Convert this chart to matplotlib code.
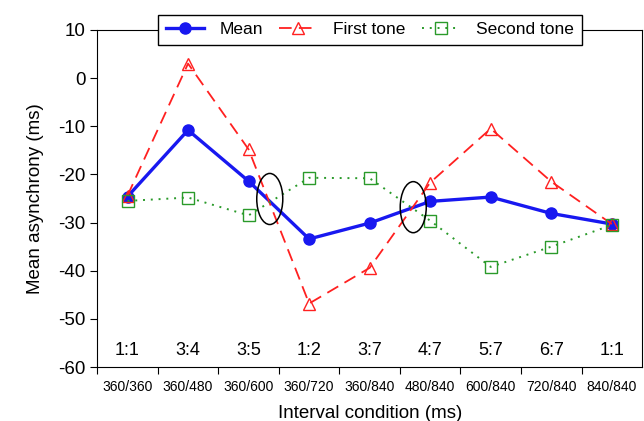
import matplotlib.pyplot as plt
from matplotlib.patches import Ellipse
import numpy as np

plt.rcParams['font.family'] = ['Liberation Sans', 'DejaVu Sans']
plt.rcParams['axes.unicode_minus'] = False

ratios = ['1:1', '3:4', '3:5', '1:2', '3:7', '4:7', '5:7', '6:7', '1:1']
intervals = ['360/360', '360/480', '360/600', '360/720', '360/840',
             '480/840', '600/840', '720/840', '840/840']
mean_vals = [-24.6, -10.8, -21.4, -33.4, -30.1, -25.6, -24.7, -28.1, -30.3]
first_tone = [-24.4, 3.0, -14.8, -46.8, -39.4, -21.7, -10.5, -21.5, -30.3]
second_tone = [-25.5, -24.8, -28.5, -20.7, -20.8, -29.6, -39.2, -35.0, -30.5]

x = np.arange(len(ratios)) + 0.5

fig = plt.figure(figsize=(6.44, 4.21), dpi=100)
ax = fig.add_axes([0.151, 0.128, 0.846, 0.801])

ax.plot(x, mean_vals, color='#1818f0', lw=2.4, marker='o', ms=8, label='Mean', zorder=3)
ax.plot(x, first_tone, color='#ff2020', lw=1.3, ls=(0, (7, 4)), marker='^', ms=8,
        mfc='none', mew=1.0, label='First tone', zorder=4)
ax.plot(x, second_tone, color='#2a9a2a', lw=1.4, ls=(0, (1, 3)), marker='s', ms=8,
        mfc='none', mew=1.0, label='Second tone', zorder=5)

for cx, cy in [(2.85, -25.1), (5.22, -26.8)]:
    ax.add_patch(Ellipse((cx, cy), 0.43, 10.6, fill=False, ec='black', lw=1.1, zorder=6))

for xi, r in zip(x, ratios):
    ax.text(xi, -56.6, r, ha='center', va='center', fontsize=13)

ax.set_xlim(0, 9)
ax.set_ylim(-60, 10)
ax.set_xticks(np.arange(9))
ax.set_xticklabels([])
ax.set_xticks(x, minor=True)
ax.set_xticklabels(intervals, minor=True, fontsize=10)
ax.tick_params(axis='x', which='minor', length=0, pad=9)
ax.tick_params(axis='x', which='major', length=5, direction='out')
ax.set_yticks(np.arange(-60, 11, 10))
ax.tick_params(axis='y', labelsize=13.5, length=5)

ax.set_xlabel('Interval condition (ms)', fontsize=13.5, labelpad=8)
ax.set_ylabel('Mean asynchrony (ms)', fontsize=13.5, labelpad=10)

leg = ax.legend(loc='center', bbox_to_anchor=(0.5, 1.0), ncol=3, fontsize=12.5,
                frameon=True, fancybox=False, edgecolor='black', framealpha=1,
                handlelength=2.2, handletextpad=0.9, columnspacing=0.95,
                borderpad=0.45, borderaxespad=0)
leg.get_frame().set_linewidth(1.0)
leg.set_zorder(10)

fig.savefig('out.png', dpi=100)
